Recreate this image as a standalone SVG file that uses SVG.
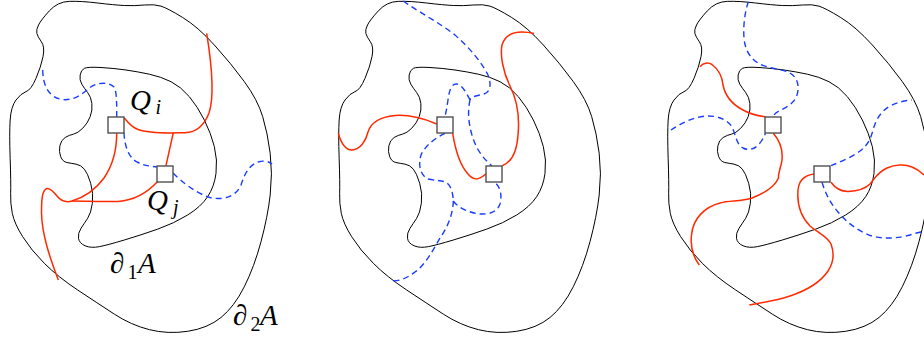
<svg xmlns="http://www.w3.org/2000/svg" xmlns:xlink="http://www.w3.org/1999/xlink" width="924" height="341" viewBox="0 0 924 341">
<style>
.bd{fill:none;stroke:#000;stroke-width:1}
.red{fill:none;stroke:#ff2a00;stroke-width:1.5}
.blue{fill:none;stroke:#1a3cff;stroke-width:1.4;stroke-dasharray:6 4}
.sq{fill:#fff;stroke:#444;stroke-width:1.3}
.m{font-family:"Liberation Serif",serif;font-style:italic;font-size:29px;fill:#000}
.s{font-family:"Liberation Serif",serif;font-size:20px;fill:#000}
.si{font-family:"Liberation Serif",serif;font-style:italic;font-size:20px;fill:#000}
</style>
<defs>
<path id="outer" d="M49.35,10.85 Q57.7,1.7 69.35,1.35 Q81,1 97.65,3 Q114.3,5 124.3,5.5 Q134.3,6 144.3,5 Q154.3,4 161,6.15 Q167.7,8.3 182.7,17.5 Q197.7,26.7 214.35,45 Q231,63.3 244.35,81.65 Q257.7,100 262.7,116.65 Q267.7,133.3 270.2,153.3 Q272.7,173.3 270.2,195 Q267.7,216.7 261,241.7 Q254.3,266.7 244.3,286.7 Q234.3,306.7 221,317.5 Q207.7,328.3 187.7,331.3 Q167.7,334.3 149.35,329.65 Q131,325 114.35,314.15 Q97.7,303.3 77.7,290 Q57.7,276.7 44.35,263.35 Q31,250 22.65,236.65 Q14.3,223.3 12.3,213.3 Q10.3,203.3 10.65,193.3 Q11,183.3 10.15,158.3 Q9.3,133.3 10.15,120 Q11,106.7 16,100 Q21,93.3 26,91.65 Q31,90 36,78.35 Q41,66.7 43,56.7 Q45,46.7 41.35,41.7 Q37.7,36.7 36.85,33.35 Q36,30 38.5,25 Q41,20 49.35,10.85 Z"/>
<path id="inner" d="M84.35,68.35 Q87.7,66.7 101,67.5 Q114.3,68.3 126,70 Q137.7,71.7 149.35,74.2 Q161,76.7 171,81.7 Q181,86.7 189.35,96.7 Q197.7,106.7 204.35,120 Q211,133.3 214.35,146.65 Q217.7,160 216,173.35 Q214.3,186.7 207.65,196.7 Q201,206.7 187.65,215 Q174.3,223.3 157.65,229.15 Q141,235 124.35,240 Q107.7,245 99.35,246.65 Q91,248.3 85.15,245.8 Q79.3,243.3 78.5,238.3 Q77.7,233.3 81,228.3 Q84.3,223.3 87.65,218.3 Q91,213.3 92.35,203.3 Q93.7,193.3 90.7,183.3 Q87.7,173.3 84.35,169.15 Q81,165 76,164.15 Q71,163.3 66.85,162.5 Q62.7,161.7 60.7,156.7 Q58.7,151.7 59.85,145.85 Q61,140 65.15,137.5 Q69.3,135 73.5,134.15 Q77.7,133.3 82.7,128.3 Q87.7,123.3 90.2,116.65 Q92.7,110 91.85,103.35 Q91,96.7 87.65,92.5 Q84.3,88.3 81.8,84.15 Q79.3,80 80.15,75 Q81,70 84.35,68.35 Z"/>
</defs>

<g id="panel1">
  <g id="p1-boundaries">
    <use xlink:href="#outer" href="#outer" class="bd"/>
    <use xlink:href="#inner" href="#inner" class="bd"/>
  </g>
  <g id="p1-connectors">
    <path class="blue" d="M42.7,70 C43,85 48,97 62,99.5 C75,101 83,93 90,87.5 C96,83 108,81 114,87 C117,92 116.7,105 116.7,116.7"/>
    <path class="blue" d="M124,132.7 C124.5,145 128,157 137,162 C145,166 150,166 156.7,167"/>
    <path class="blue" d="M173.3,173.3 C180,180 195,193 210,197.5 C225,201 237,195 241,185 C245,172 250,165 258,162 C265,160 270,162 272,164"/>
    <path class="red" d="M206.7,33.3 C211,60 215,95 209,113 C204,126 195,132.5 185,132.7 C170,133 150,134 138,129.5 C131,127 127,121 124.3,118"/>
    <path class="red" d="M173.3,132.7 L166,165.7"/>
    <path class="red" d="M116.7,133.3 C116.7,150 113,165 104,178 C96,189 85,197 72,201 C65,203 61,201 57,196 C53,191 50,188 47,188.5 C42,190 41.5,200 41.5,213 C42,235 50,258 58.3,280"/>
    <path class="red" d="M72,201 C85,201 105,202 118,201.5 C135,200 148,192 157.3,181.7"/>
  </g>
  <g id="p1-Qi"><rect class="sq" x="108" y="117" width="16" height="16"/></g>
  <g id="p1-Qj"><rect class="sq" x="157" y="166" width="16" height="16"/></g>
  <g id="p1-labels">
    <text class="m" x="130" y="110">Q</text><text class="si" x="155.5" y="114">i</text>
    <text class="m" x="147" y="210">Q</text><text class="si" x="173" y="214">j</text>
    <text class="m" x="110" y="273">∂</text><text class="s" x="127.5" y="279">1</text><text class="m" x="138" y="273">A</text>
    <text class="m" x="233" y="325">∂</text><text class="s" x="250.5" y="331">2</text><text class="m" x="260" y="325">A</text>
  </g>
</g>

<g id="panel2">
  <g id="p2-boundaries" transform="translate(329,0)">
    <use xlink:href="#outer" href="#outer" class="bd"/>
    <use xlink:href="#inner" href="#inner" class="bd"/>
  </g>
  <g id="p2-connectors">
    <path class="blue" d="M403.3,1 C420,13 440,23 455,35 C470,48 482,63 488,75 C492,85 490,92 484,94 C477,96 471,96 470,100"/>
    <path class="blue" d="M470,100 C467,113 469,128 474,141 C478,152 485,160 491.7,165.7"/>
    <path class="blue" d="M470,100 C466,92 462,85 457,84 C451,83 449,92 448,100 C447,107 446,112 445,116.7"/>
    <path class="blue" d="M445,133.3 C435,138 425,146 421,155 C418,165 420,175 428,179 C436,181 443,180 447,183 C452,187 453,195 453.3,201"/>
    <path class="blue" d="M453.3,201 C453,215 447,228 440,238 C432,252 425,265 415,272 C407,278 400,281 393.3,281"/>
    <path class="blue" d="M453.3,201 C458,208 470,213 480,214 C490,214.5 497,212 500,204 C502,196 501,188 495,182.3"/>
    <path class="red" d="M338.3,133.3 C341,143 346,150 352,150 C360,149.5 366,141 368,132 C371,122 380,117 395,115.5 C410,114.5 425,119 436.7,124"/>
    <path class="red" d="M452.7,133.3 C455,148 460,165 468,174 C473,180 478,181 485.7,174"/>
    <path class="red" d="M502.3,165.7 C512,162 517,150 518,135 C520,115 517,100 510,86 C503,72 500,55 502,45 C505,35 513,32 522,32 C528,32 532,33 534,33.5"/>
  </g>
  <g id="p2-Qi"><rect class="sq" x="437" y="117" width="16" height="16"/></g>
  <g id="p2-Qj"><rect class="sq" x="486" y="166" width="16" height="16"/></g>
</g>

<g id="panel3">
  <g id="p3-boundaries" transform="translate(658,0)">
    <use xlink:href="#outer" href="#outer" class="bd"/>
    <use xlink:href="#inner" href="#inner" class="bd"/>
  </g>
  <g id="p3-connectors">
    <path class="blue" d="M748.3,1.7 C745,12 743,25 744,38 C745,50 750,58 758,63 C766,68 780,69 788,72 C797,76 800,85 797,95 C794,104 785,108 779,111 C776,112.5 774,114 773.3,116.7"/>
    <path class="blue" d="M671,130 C680,124 693,117 706,116 C718,115.5 728,120 732,127 C736,135 736,144 743,148 C751,152 758,147 762,140 C764,137 765,135 765.3,133.3"/>
    <path class="blue" d="M831,165.7 C840,162 852,157 860,151 C868,145 871,138 873,130 C876,120 880,112 890,106 C898,102 905,100.5 911.7,100"/>
    <path class="blue" d="M822,182.3 C825,192 830,203 838,212 C848,224 860,232 872,236 C885,239.5 900,238 910,235 C915,233.5 919,232.5 921.7,231.7"/>
    <path class="red" d="M700,66.7 C703,63 708,62 712,64.5 C718,69 722,75 723,85 C725,95 732,104 742,109.5 C750,114 758,116 765.3,116.7"/>
    <path class="red" d="M773.3,133.3 C780,141 783,150 782,160 C781,168 778,172 778.5,178 C775,186 765,193 752,198 C740,202 730,200 720,203 C705,207 693,218 691.5,235 C690,248 694,258 699.3,265"/>
    <path class="red" d="M814.3,174 C806,175 799,179 798,190 C797,203 800,216 810,226 C818,233 827,236 831,244 C834,252 834,262 828,271 C820,283 805,291 790,296 C775,301 760,303 749.3,305"/>
    <path class="red" d="M831,182.3 C835,188 840,191.5 848,191.5 C858,191 866,188 870,184 C875,178 878,172 887,168 C895,164.5 905,164 912,167 C917,169 921,172 924,175"/>
  </g>
  <g id="p3-Qi"><rect class="sq" x="765" y="117" width="16" height="16"/></g>
  <g id="p3-Qj"><rect class="sq" x="814" y="166" width="16" height="16"/></g>
</g>
</svg>
